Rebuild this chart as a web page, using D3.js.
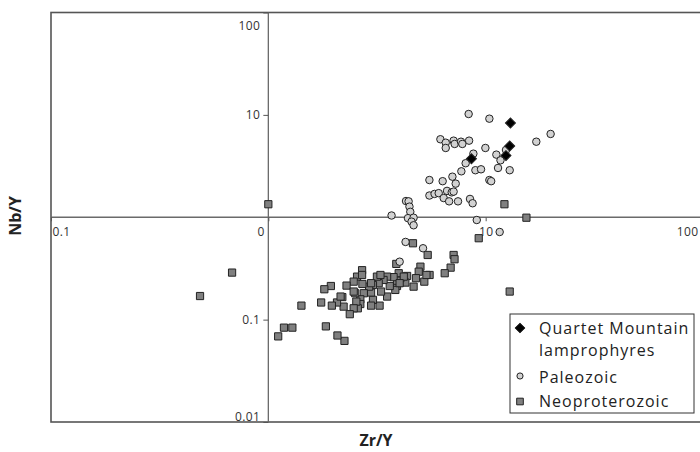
<!DOCTYPE html>
<html>
<head>
<meta charset="utf-8">
<script src="https://cdn.jsdelivr.net/npm/d3@7"></script>
<style>
  body { margin: 0; background: #fff; }
  svg { display: block; font-family: "Open Sans", sans-serif; }
</style>
</head>
<body>
<svg width="700" height="452"></svg>
<script>
// Zr/Y (x) vs Nb/Y (y), both log scale
const xTicks = [0.1, 1, 10, 100],
      xTickLabels = ["0.1", "0", "10", "100"],
      yTicks = [0.01, 0.1, 10, 100],
      yTickLabels = ["0.01", "0.1", "10", "100"]

const seriesNames = ["Quartet Mountain lamprophyres", "Paleozoic", "Neoproterozoic"]

const quartetMountain = [[13.0, 8.34], [12.9, 4.97], [12.4, 4.0], [8.6, 3.73]]

const paleozoic = [
  [8.35, 10.2], [10.4, 9.18], [19.9, 6.51], [17.1, 5.47], [6.19, 5.78], [6.55, 5.35], [6.55, 4.75],
  [7.12, 5.6], [7.2, 5.2], [7.7, 5.47], [7.81, 5.2], [8.39, 5.6], [9.97, 4.75], [8.78, 4.18],
  [11.2, 4.09], [12.4, 4.54], [11.7, 3.6], [8.09, 3.37], [7.73, 2.81], [8.97, 2.88], [9.52, 2.94],
  [11.4, 3.03], [12.9, 2.88], [10.4, 2.31], [10.6, 2.25], [5.51, 2.31], [6.34, 2.25], [7.03, 2.49],
  [7.28, 2.13], [5.51, 1.63], [5.82, 1.69], [6.08, 1.72], [6.41, 1.54], [6.64, 1.81], [6.98, 1.75],
  [7.12, 1.78], [6.79, 1.43], [7.46, 1.43], [8.47, 1.51], [8.71, 1.37], [4.30, 1.44], [4.42, 1.43],
  [4.46, 1.27], [4.5, 1.13], [3.69, 1.04], [4.39, 0.98], [4.66, 0.99], [4.56, 0.906], [4.66, 0.835],
  [9.1, 0.94], [11.6, 0.718], [4.28, 0.574], [5.15, 0.498], [4.02, 0.368]
]

const neoproterozoic = [
  [1.0, 1.34], [12.2, 1.34], [15.4, 0.99], [0.681, 0.288], [0.485, 0.170], [9.29, 0.624], [12.9, 0.188],
  [7.12, 0.428], [7.19, 0.389], [6.9, 0.322], [6.48, 0.284], [5.52, 0.273], [5.41, 0.428], [4.63, 0.557],
  [3.88, 0.35], [5.01, 0.329], [4.92, 0.294], [4.78, 0.254], [5.22, 0.235], [4.66, 0.21], [5.34, 0.273],
  [4.35, 0.267], [4.27, 0.23], [4.05, 0.254], [3.98, 0.284], [3.91, 0.213], [3.91, 0.240], [3.84, 0.195],
  [3.77, 0.26], [3.62, 0.213], [3.52, 0.263], [3.52, 0.168], [3.39, 0.244], [3.30, 0.188], [3.25, 0.137],
  [3.22, 0.227], [3.16, 0.263], [3.03, 0.218], [3.03, 0.156], [2.97, 0.184], [2.97, 0.137], [2.91, 0.21],
  [2.75, 0.181], [2.71, 0.223], [2.70, 0.304], [2.65, 0.158], [2.65, 0.142], [2.58, 0.129], [2.54, 0.15],
  [2.56, 0.263], [2.51, 0.181], [2.47, 0.235], [2.47, 0.129], [2.37, 0.113], [2.29, 0.215], [2.22, 0.134],
  [2.19, 0.166], [2.24, 0.062], [2.08, 0.070], [2.07, 0.147], [1.96, 0.137], [1.94, 0.213], [1.81, 0.198],
  [1.84, 0.0859], [1.75, 0.147], [1.42, 0.137], [1.29, 0.0835], [1.18, 0.0835], [1.11, 0.0686],
  [4.2, 0.263], [4.02, 0.227], [2.15, 0.168], [2.47, 0.188], [2.70, 0.273], [2.97, 0.227], [3.28, 0.273]
]

const svg = d3.select("svg"),
      g = svg.append("g")

const x = d3.scaleLog().domain([0.1, 100]).range([51, 703]),
      y = d3.scaleLog().domain([0.01, 100]).range([422, 12.5])

const styles = {
  "Quartet Mountain lamprophyres": {type: d3.symbolSquare, size: 50, rotate: 45, fill: "#000"},
  "Paleozoic": {type: d3.symbolCircle, size: 44, rotate: 0, fill: "#d2d2d2"},
  "Neoproterozoic": {type: d3.symbolSquare, size: 52, rotate: 0, fill: "#808080"}
}

//outer frame
g.append("rect")
  .attr("x", x(0.1)).attr("y", y(100))
  .attr("width", x(100) - x(0.1)).attr("height", y(0.01) - y(100))
  .style("fill", "none").style("stroke", "#555").style("stroke-width", 1.6)

//crossing axes at 1,1
g.append("line").attr("x1", x(1)).attr("x2", x(1)).attr("y1", y(100)).attr("y2", y(0.01))
  .style("stroke", "#6a6a6a").style("stroke-width", 1.3)
g.append("line").attr("x1", x(0.1)).attr("x2", x(100)).attr("y1", y(1)).attr("y2", y(1))
  .style("stroke", "#6a6a6a").style("stroke-width", 1.3)

const yAxis = g.append("g")
  .attr("transform", "translate(" + x(1) + ",0)")
  .call(d3.axisLeft(y).tickValues(yTicks).tickSize(5).tickPadding(3)
    .tickFormat((d, i) => yTickLabels[i]))
yAxis.select(".domain").remove()
yAxis.selectAll("line").style("stroke", "#555")
yAxis.selectAll("text")
  .style("font-family", "Open Sans, sans-serif").style("font-size", "12px").style("fill", "#333")
  .style("letter-spacing", "0.4px")
  .attr("dy", d => d === 100 ? "1.4em" : d === 0.01 ? "-0.1em" : "0.32em")

const xAxis = g.append("g")
  .attr("transform", "translate(0," + y(1) + ")")
  .call(d3.axisBottom(x).tickValues(xTicks).tickSize(4).tickPadding(6)
    .tickFormat((d, i) => xTickLabels[i]))
xAxis.select(".domain").remove()
xAxis.selectAll("line").style("stroke", "#555")
xAxis.selectAll("text")
  .style("font-family", "Open Sans, sans-serif").style("font-size", "12px").style("fill", "#333")
  .style("letter-spacing", "0.4px")
  .attr("text-anchor", d => d === 0.1 ? "start" : d === 10 ? "middle" : "end")
  .attr("dx", d => d === 0.1 ? 1 : d === 1 ? -4 : d === 100 ? -5 : 0)

//points, drawn bottom to top
const layers = [["Neoproterozoic", neoproterozoic], ["Paleozoic", paleozoic], ["Quartet Mountain lamprophyres", quartetMountain]]

layers.forEach(function (layer) {
  let st = styles[layer[0]]
  g.selectAll(null)
    .data(layer[1])
    .enter().append("path")
      .attr("d", d3.symbol().type(st.type).size(st.size))
      .attr("transform", d => "translate(" + x(d[0]) + "," + y(d[1]) + ") rotate(" + st.rotate + ")")
      .style("fill", st.fill)
      .style("stroke", "#222")
      .style("stroke-width", 1)
})

//axis titles
svg.append("text").text("Zr/Y")
  .attr("x", 376).attr("y", 446).attr("text-anchor", "middle")
  .style("font-weight", "bold").style("font-size", "16px").style("fill", "#222")
svg.append("text").text("Nb/Y")
  .attr("transform", "translate(21,216) rotate(-90)").attr("text-anchor", "middle")
  .style("font-weight", "bold").style("font-size", "16px").style("fill", "#222")

//legend
const legend = svg.append("g").attr("transform", "translate(510,314)")
legend.append("rect").attr("width", 184).attr("height", 99)
  .style("fill", "#fff").style("stroke", "#333").style("stroke-width", 1)

const legendRows = [
  {name: seriesNames[0], lines: ["Quartet Mountain", "lamprophyres"], my: 14, ty: 20},
  {name: seriesNames[1], lines: ["Paleozoic"], my: 62, ty: 68.5},
  {name: seriesNames[2], lines: ["Neoproterozoic"], my: 87.5, ty: 93}
]

legendRows.forEach(function (row) {
  let st = styles[row.name]
  legend.append("path")
    .attr("d", d3.symbol().type(st.type).size(row.name === "Paleozoic" ? 30 : st.size * 0.85))
    .attr("transform", "translate(10," + row.my + ") rotate(" + st.rotate + ")")
    .style("fill", st.fill).style("stroke", row.name === "Quartet Mountain lamprophyres" ? "#000" : "#222")
  let t = legend.append("text").attr("x", 29).attr("y", row.ty)
    .style("font-size", "16px").style("fill", "#222").style("letter-spacing", "1px")
  row.lines.forEach(function (l, i) {
    t.append("tspan").attr("x", 29).attr("dy", i === 0 ? 0 : 22).text(l)
  })
})
</script>
</body>
</html>
